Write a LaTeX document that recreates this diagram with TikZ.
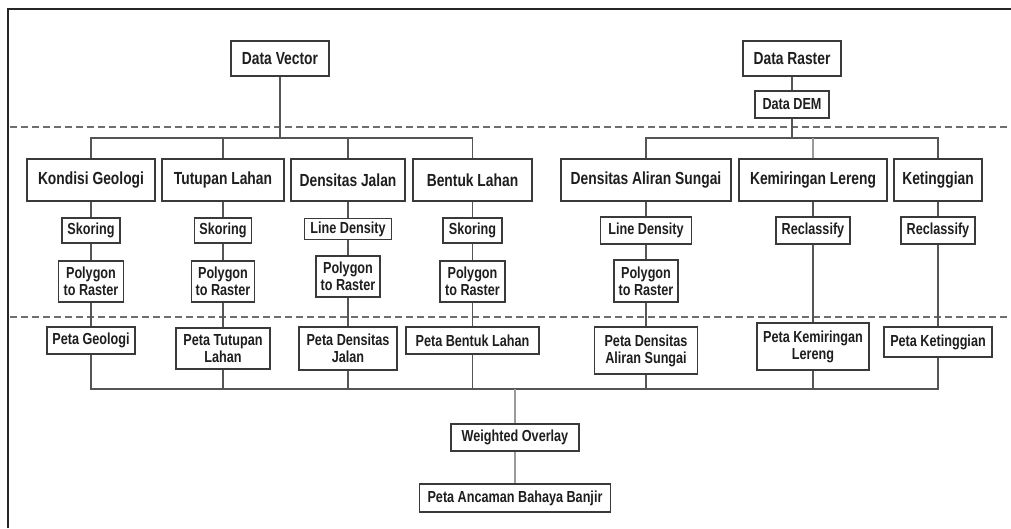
\documentclass[tikz,border=0pt]{standalone}
\usepackage{fontspec}
\setmainfont{Liberation Sans}[FakeStretch=0.79]
\begin{document}
\begin{tikzpicture}[x=1pt,y=-1pt,
  box/.style={draw=boxc, line width=1.4pt, fill=white, inner sep=0pt, align=center, text=txtc, font=\bfseries\fontsize{16}{17}\selectfont},
  big/.style={box, font=\bfseries\fontsize{17.5}{19}\selectfont},
  conn/.style={draw=linec, line width=1.3pt},
  lconn/.style={draw=lightc, line width=1.3pt},
  sep/.style={draw=dashc, line width=1.1pt, dash pattern=on 7pt off 4pt}]
\definecolor{boxc}{HTML}{3A3A3A}
\definecolor{txtc}{HTML}{1E1E1E}
\definecolor{linec}{HTML}{555555}
\definecolor{lightc}{HTML}{9A9A9A}
\definecolor{dashc}{HTML}{6E6E6E}
\useasboundingbox (0,0) rectangle (1011,528);
\fill[white] (0,0) rectangle (1011,528);
% frame (left and top only)
\draw[line width=2.6pt, color=black!85] (8,528) -- (8,9) -- (1011,9);
% separators
\draw[sep] (10,127) -- (1011,127);
\draw[sep] (10,317) -- (1011,317);

% top nodes
\node[big, minimum width=98pt, minimum height=35pt] (DV) at (280,58.5) {Data Vector};
\node[big, minimum width=98pt, minimum height=35pt] (DR) at (792,58.5) {Data Raster};
\node[box, minimum width=74pt, minimum height=27pt] (DEM) at (792,104.5) {Data DEM};

% category nodes
\node[big, minimum width=128pt, minimum height=42pt] (KG) at (91,180) {Kondisi Geologi};
\node[big, minimum width=122pt, minimum height=42pt] (TL) at (223,180) {Tutupan Lahan};
\node[big, minimum width=114pt, minimum height=42pt] (DJ) at (348,180) {Densitas Jalan};
\node[big, minimum width=119pt, minimum height=42pt] (BL) at (472.5,180) {Bentuk Lahan};
\node[big, minimum width=170pt, minimum height=42pt] (DAS) at (646,180) {Densitas Aliran Sungai};
\node[big, minimum width=148pt, minimum height=42pt] (KL) at (813,180) {Kemiringan Lereng};
\node[big, minimum width=88pt, minimum height=42pt] (KT) at (938,180) {Ketinggian};

% process row 1
\node[box, minimum width=58pt, minimum height=25pt] (s1) at (91,230.5) {Skoring};
\node[box, minimum width=57pt, minimum height=25pt] (s2) at (223,230.5) {Skoring};
\node[box, minimum width=87pt, minimum height=21pt] (s3) at (348,229) {Line Density};
\node[box, minimum width=59pt, minimum height=25pt] (s4) at (472.5,230.5) {Skoring};
\node[box, minimum width=91pt, minimum height=27pt] (s5) at (646,230.5) {Line Density};
\node[box, minimum width=74pt, minimum height=27pt] (s6) at (813,230.5) {Reclassify};
\node[box, minimum width=74pt, minimum height=27pt] (s7) at (938,230.5) {Reclassify};

% process row 2
\node[box, minimum width=65pt, minimum height=41pt] (p1) at (91,281.5) {Polygon\\to Raster};
\node[box, minimum width=63pt, minimum height=41pt] (p2) at (223,281.5) {Polygon\\to Raster};
\node[box, minimum width=64pt, minimum height=41pt] (p3) at (348,276.5) {Polygon\\to Raster};
\node[box, minimum width=65pt, minimum height=41pt] (p4) at (472.5,281.5) {Polygon\\to Raster};
\node[box, minimum width=64pt, minimum height=42pt] (p5) at (646,281) {Polygon\\to Raster};

% map nodes
\node[box, minimum width=88pt, minimum height=27pt] (m1) at (91,340.5) {Peta Geologi};
\node[box, minimum width=94pt, minimum height=41pt] (m2) at (223,348.5) {Peta Tutupan\\Lahan};
\node[box, minimum width=98pt, minimum height=43pt] (m3) at (348,348.5) {Peta Densitas\\Jalan};
\node[box, minimum width=133pt, minimum height=27pt] (m4) at (472.5,340.5) {Peta Bentuk Lahan};
\node[box, minimum width=103pt, minimum height=47pt] (m5) at (646,350.5) {Peta Densitas\\Aliran Sungai};
\node[box, minimum width=112pt, minimum height=47pt] (m6) at (813,346.5) {Peta Kemiringan\\Lereng};
\node[box, minimum width=108pt, minimum height=30pt] (m7) at (938,342) {Peta Ketinggian};

% final
\node[box, minimum width=128pt, minimum height=27pt] (WO) at (515,437.5) {Weighted Overlay};
\node[box, minimum width=191pt, minimum height=28pt] (PA) at (515,498) {Peta Ancaman Bahaya Banjir};

% bars
\coordinate (vbar) at (280,138);
\coordinate (rbar) at (792,138);
\coordinate (bbar) at (515,389);

% top connectors
\draw[conn] (DV.south) -- (vbar);
\draw[conn] (KG.north) |- (vbar) -| (BL.north);
\draw[conn] (TL.north) -- (TL.north |- vbar);
\draw[conn] (DJ.north) -- (DJ.north |- vbar);
\draw[conn] (DR.south) -- (DEM.north);
\draw[conn] (DEM.south) -- (rbar);
\draw[conn] (DAS.north) |- (rbar) -| (KT.north);
\draw[lconn] (KL.north) -- (KL.north |- rbar);

% vertical chains
\foreach \a/\b in {KG/s1,s1/p1,p1/m1,TL/s2,s2/p2,p2/m2,DJ/s3,s3/p3,p3/m3,BL/s4,s4/p4,p4/m4,DAS/s5,s5/p5,p5/m5,KL/s6,s6/m6,KT/s7,s7/m7}
  \draw[conn] (\a.south) -- (\b.north);

% bottom bar
\draw[conn] (m1.south) |- (bbar) -| (m7.south);
\foreach \m in {m2,m3,m4,m5,m6}
  \draw[conn] (\m.south) -- (\m.south |- bbar);
\draw[lconn] (bbar) -- (WO.north);
\draw[lconn] (WO.south) -- (PA.north);
\end{tikzpicture}
\end{document}
